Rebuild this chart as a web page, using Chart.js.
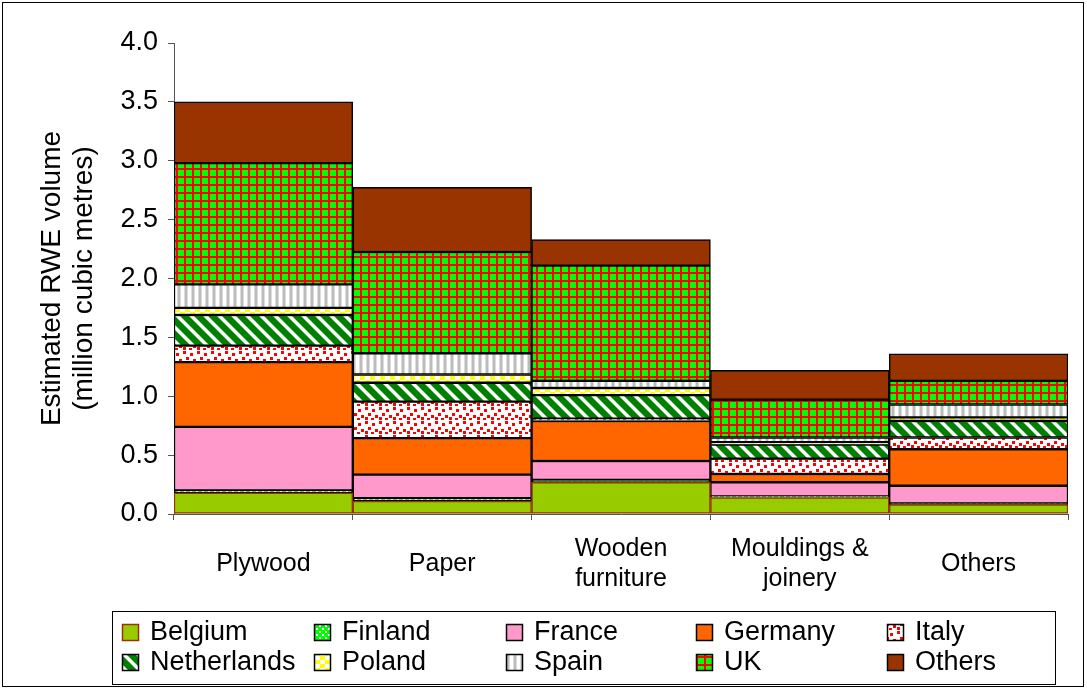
<!DOCTYPE html>
<html>
<head>
<meta charset="utf-8">
<script src="https://cdn.jsdelivr.net/npm/chart.js@4/dist/chart.umd.min.js"></script>
<style>
  html, body { margin: 0; padding: 0; background: #fff; }
  #wrap { position: relative; width: 1087px; height: 688px; }
</style>
</head>
<body>
<div id="wrap"><canvas id="c" width="1087" height="688"></canvas></div>
<script>
// Product categories (x axis)
const categories = [['Plywood'], ['Paper'], ['Wooden', 'furniture'], ['Mouldings &', 'joinery'], ['Others']];

// Estimated RWE volume, million cubic metres, per supplying country
const belgium     = [0.18, 0.11, 0.27, 0.14, 0.08];
const finland     = [0.02, 0.025, 0.02, 0.01, 0.01];
const france      = [0.54, 0.20, 0.16, 0.12, 0.15];
const germany     = [0.55, 0.31, 0.34, 0.07, 0.31];
const italy       = [0.14, 0.31, 0.02, 0.13, 0.10];
const netherlands = [0.26, 0.16, 0.20, 0.12, 0.14];
const poland      = [0.06, 0.07, 0.06, 0.02, 0.03];
const spain       = [0.20, 0.18, 0.06, 0.04, 0.11];
const uk          = [1.03, 0.86, 0.98, 0.32, 0.20];
const others      = [0.52, 0.55, 0.22, 0.25, 0.23];

const seriesNames = ['Belgium', 'Finland', 'France', 'Germany', 'Italy',
                     'Netherlands', 'Poland', 'Spain', 'UK', 'Others'];

// Value axis
const yMin = 0, yMax = 4, yStep = 0.5;

const FONT = "'Liberation Sans', Arial, sans-serif";

// ---- fill patterns -------------------------------------------------------
function tile(w, h, paint) {
  const cv = document.createElement('canvas');
  cv.width = w; cv.height = h;
  const g = cv.getContext('2d');
  paint(g, w, h);
  return g;
}
function toPattern(g) {
  return document.getElementById('c').getContext('2d').createPattern(g.canvas, 'repeat');
}

const finlandFill = toPattern(tile(6, 6, (g) => {
  g.fillStyle = '#00ff00'; g.fillRect(0, 0, 6, 6);
  g.fillStyle = '#ffffff'; g.fillRect(1, 1, 2, 2); g.fillRect(4, 4, 2, 2);
}));

const italyFill = toPattern(tile(14, 14, (g) => {
  g.fillStyle = '#ffffff'; g.fillRect(0, 0, 14, 14);
  g.fillStyle = '#ff0000';
  [[1, 1], [8, 3], [4, 7], [11, 9], [1, 11], [7, 12]].forEach(([x, y]) => g.fillRect(x, y, 3, 3));
}));

const netherlandsFill = toPattern(tile(14, 14, (g) => {
  for (let y = 0; y < 14; y++) {
    for (let x = 0; x < 14; x++) {
      const d = ((x - y) % 14 + 14) % 14;
      g.fillStyle = d < 4 ? '#ffffff' : (d === 4 || d === 13 ? '#7fbf7f' : '#008000');
      g.fillRect(x, y, 1, 1);
    }
  }
}));

const polandFill = toPattern(tile(10, 8, (g) => {
  g.fillStyle = '#ffffff'; g.fillRect(0, 0, 10, 8);
  g.fillStyle = '#ffff00'; g.fillRect(0, 0, 5, 4); g.fillRect(5, 4, 5, 4);
}));

const spainFill = toPattern(tile(7, 1, (g) => {
  ['#ffffff', '#ffffff', '#dcdcdc', '#bcbcbc', '#bcbcbc', '#dcdcdc', '#ffffff']
    .forEach((c, x) => { g.fillStyle = c; g.fillRect(x, 0, 1, 1); });
}));

const ukFill = toPattern(tile(8, 8, (g) => {
  g.fillStyle = '#00ff00'; g.fillRect(0, 0, 8, 8);
  g.fillStyle = '#ff0000'; g.fillRect(0, 0, 2, 8); g.fillRect(0, 0, 8, 2);
}));

const fills = ['#99cc00', finlandFill, '#ff99cc', '#ff6600', italyFill,
               netherlandsFill, polandFill, spainFill, ukFill, '#993300'];
const edges = ['#993300', '#000', '#000', '#000', '#000', '#000', '#000', '#000', '#000', '#000'];
const values = [belgium, finland, france, germany, italy, netherlands, poland, spain, uk, others];

const datasets = seriesNames.map((name, i) => ({
  label: name,
  data: values[i],
  backgroundColor: fills[i],
  borderColor: edges[i],
  borderWidth: 1.5,
  borderSkipped: false,
  barPercentage: 1,
  categoryPercentage: 1
}));

// ---- frame + boxed legend in five columns --------------------------------
const framePlugin = {
  id: 'frameAndLegend',
  afterDraw(chart) {
    const ctx = chart.ctx;
    ctx.save();
    ctx.strokeStyle = '#000';
    ctx.lineWidth = 1;
    ctx.strokeRect(2.5, 2.5, 1081, 684);
    ctx.strokeRect(112.5, 611.5, 943, 73);

    const colX = [122, 314, 506, 696, 887];
    const rowY = [632, 662];
    ctx.font = '27px ' + FONT;
    ctx.textBaseline = 'middle';
    ctx.textAlign = 'left';
    chart.data.datasets.forEach((ds, i) => {
      const x = colX[i % 5], y = rowY[Math.floor(i / 5)];
      ctx.fillStyle = ds.backgroundColor;
      ctx.fillRect(x, y - 8, 17, 17);
      ctx.strokeStyle = ds.borderColor;
      ctx.lineWidth = 1.5;
      ctx.strokeRect(x + 0.5, y - 7.5, 16, 16);
      ctx.fillStyle = '#000';
      ctx.fillText(ds.label, x + 28, y + 1);
    });
    ctx.restore();
  }
};

new Chart(document.getElementById('c'), {
  type: 'bar',
  data: { labels: categories, datasets },
  options: {
    responsive: false,
    animation: false,
    devicePixelRatio: 1,
    layout: { padding: { left: 0, top: 43, right: 19, bottom: 88 } },
    plugins: { legend: { display: false }, tooltip: { enabled: false } },
    scales: {
      x: {
        stacked: true,
        grid: { drawOnChartArea: false, drawTicks: true, tickLength: 6, color: '#555', offset: true },
        border: { display: true, color: '#555', width: 1 },
        ticks: {
          color: '#000',
          font: { family: FONT, size: 25, lineHeight: 1.2 },
          padding: 29,
          maxRotation: 0,
          autoSkip: false,
          crossAlign: 'center'
        },
        afterFit(scale) { scale.height = 86; }
      },
      y: {
        stacked: true,
        min: yMin,
        max: yMax,
        grid: { drawOnChartArea: false, drawTicks: true, tickLength: 6, color: '#555' },
        border: { display: true, color: '#555', width: 1 },
        ticks: {
          stepSize: yStep,
          color: '#000',
          font: { family: FONT, size: 27 },
          padding: 10,
          callback: (v) => Number(v).toFixed(1)
        },
        title: {
          display: true,
          text: ['Estimated RWE volume', '(million cubic metres)'],
          color: '#000',
          font: { family: FONT, size: 28, lineHeight: 1.15 },
          padding: { top: 36, bottom: 0 }
        },
        afterFit(scale) { scale.width = 174; }
      }
    }
  },
  plugins: [framePlugin]
});
</script>
</body>
</html>
